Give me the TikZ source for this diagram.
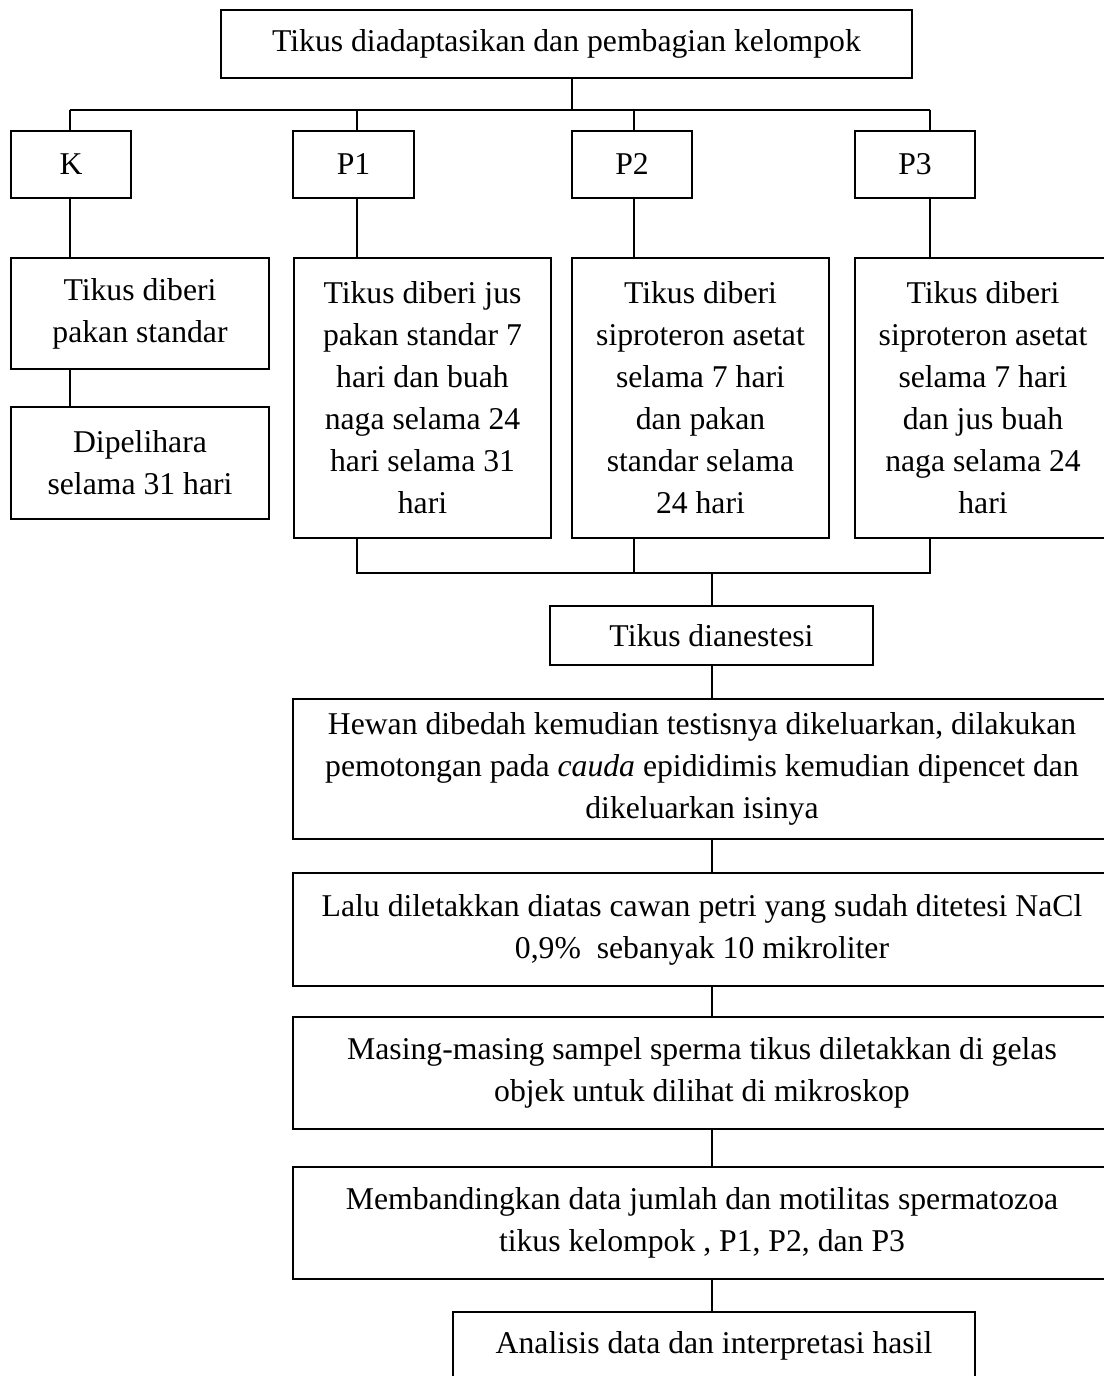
\documentclass[tikz,border=0pt]{standalone}
\usepackage{fontspec}
\setmainfont{Liberation Serif}
\begin{document}
\begin{tikzpicture}[x=1pt,y=-1pt,
  box/.style={draw, line width=1.8pt, inner sep=0pt, align=center,
    font=\fontsize{31.7}{42}\selectfont},
  conn/.style={line width=1.8pt}]
\useasboundingbox (0,0) rectangle (1103,1376);
% top
\node[box, minimum width=691pt, minimum height=68pt] (top) at (566.5,44) {Tikus diadaptasikan dan pembagian kelompok};
% groups
\node[box, minimum width=120pt, minimum height=67pt] (K) at (71,164.5) {K};
\node[box, minimum width=121pt, minimum height=67pt] (P1) at (353.5,164.5) {P1};
\node[box, minimum width=120pt, minimum height=67pt] (P2) at (632,164.5) {P2};
\node[box, minimum width=120pt, minimum height=67pt] (P3) at (915,164.5) {P3};
% treatments
\node[box, minimum width=258pt, minimum height=111pt] (Kt) at (140,313.5) {Tikus diberi\\pakan standar};
\node[box, minimum width=258pt, minimum height=112pt] (Kd) at (140,463) {Dipelihara\\selama 31 hari};
\node[box, minimum width=257pt, minimum height=280pt] (P1t) at (422.5,398) {Tikus diberi jus\\pakan standar 7\\hari dan buah\\naga selama 24\\hari selama 31\\hari};
\node[box, minimum width=257pt, minimum height=280pt] (P2t) at (700.5,398) {Tikus diberi\\siproteron asetat\\selama 7 hari\\dan pakan\\standar selama\\24 hari};
\node[box, minimum width=256pt, minimum height=280pt] (P3t) at (983,398) {Tikus diberi\\siproteron asetat\\selama 7 hari\\dan jus buah\\naga selama 24\\hari};
% sequence
\node[box, minimum width=323pt, minimum height=59pt] (an) at (711.5,635.5) {Tikus dianestesi};
\node[box, minimum width=818pt, minimum height=140pt] (hw) at (702,769) {Hewan dibedah kemudian testisnya dikeluarkan, dilakukan\\pemotongan pada \textit{cauda} epididimis kemudian dipencet dan\\dikeluarkan isinya};
\node[box, minimum width=818pt, minimum height=113pt] (la) at (702,929.5) {Lalu diletakkan diatas cawan petri yang sudah ditetesi NaCl\\0,9\%\ \ sebanyak 10 mikroliter};
\node[box, minimum width=818pt, minimum height=112pt] (ms) at (702,1073) {Masing-masing sampel sperma tikus diletakkan di gelas\\objek untuk dilihat di mikroskop};
\node[box, minimum width=818pt, minimum height=112pt] (mb) at (702,1223) {Membandingkan data jumlah dan motilitas spermatozoa\\tikus kelompok , P1, P2, dan P3};
\node[box, minimum width=522pt, minimum height=68pt] (ah) at (714,1346) {Analisis data dan interpretasi hasil};
% connector positions
\coordinate (xT) at (572,0);
\coordinate (xK) at (70,0);
\coordinate (xP1) at (357,0);
\coordinate (xP2) at (634,0);
\coordinate (xP3) at (930,0);
\coordinate (xM) at (712,0);
\coordinate (bus1) at (0,110);
\coordinate (bus2) at (0,573);
% connectors
\draw[conn] (top.south -| xT) -- (xT |- bus1);
\draw[conn] (xK |- bus1) -- (xP3 |- bus1);
\draw[conn] (xK |- bus1) -- (K.north -| xK);
\draw[conn] (xP1 |- bus1) -- (P1.north -| xP1);
\draw[conn] (xP2 |- bus1) -- (P2.north -| xP2);
\draw[conn] (xP3 |- bus1) -- (P3.north -| xP3);
\draw[conn] (K.south -| xK) -- (Kt.north -| xK);
\draw[conn] (Kt.south -| xK) -- (Kd.north -| xK);
\draw[conn] (P1.south -| xP1) -- (P1t.north -| xP1);
\draw[conn] (P2.south -| xP2) -- (P2t.north -| xP2);
\draw[conn] (P3.south -| xP3) -- (P3t.north -| xP3);
\draw[conn] (P1t.south -| xP1) -- (xP1 |- bus2) -- (xP3 |- bus2) -- (P3t.south -| xP3);
\draw[conn] (P2t.south -| xP2) -- (xP2 |- bus2);
\draw[conn] (xM |- bus2) -- (an.north -| xM);
\draw[conn] (an.south -| xM) -- (hw.north -| xM);
\draw[conn] (hw.south -| xM) -- (la.north -| xM);
\draw[conn] (la.south -| xM) -- (ms.north -| xM);
\draw[conn] (ms.south -| xM) -- (mb.north -| xM);
\draw[conn] (mb.south -| xM) -- (ah.north -| xM);
\end{tikzpicture}
\end{document}
